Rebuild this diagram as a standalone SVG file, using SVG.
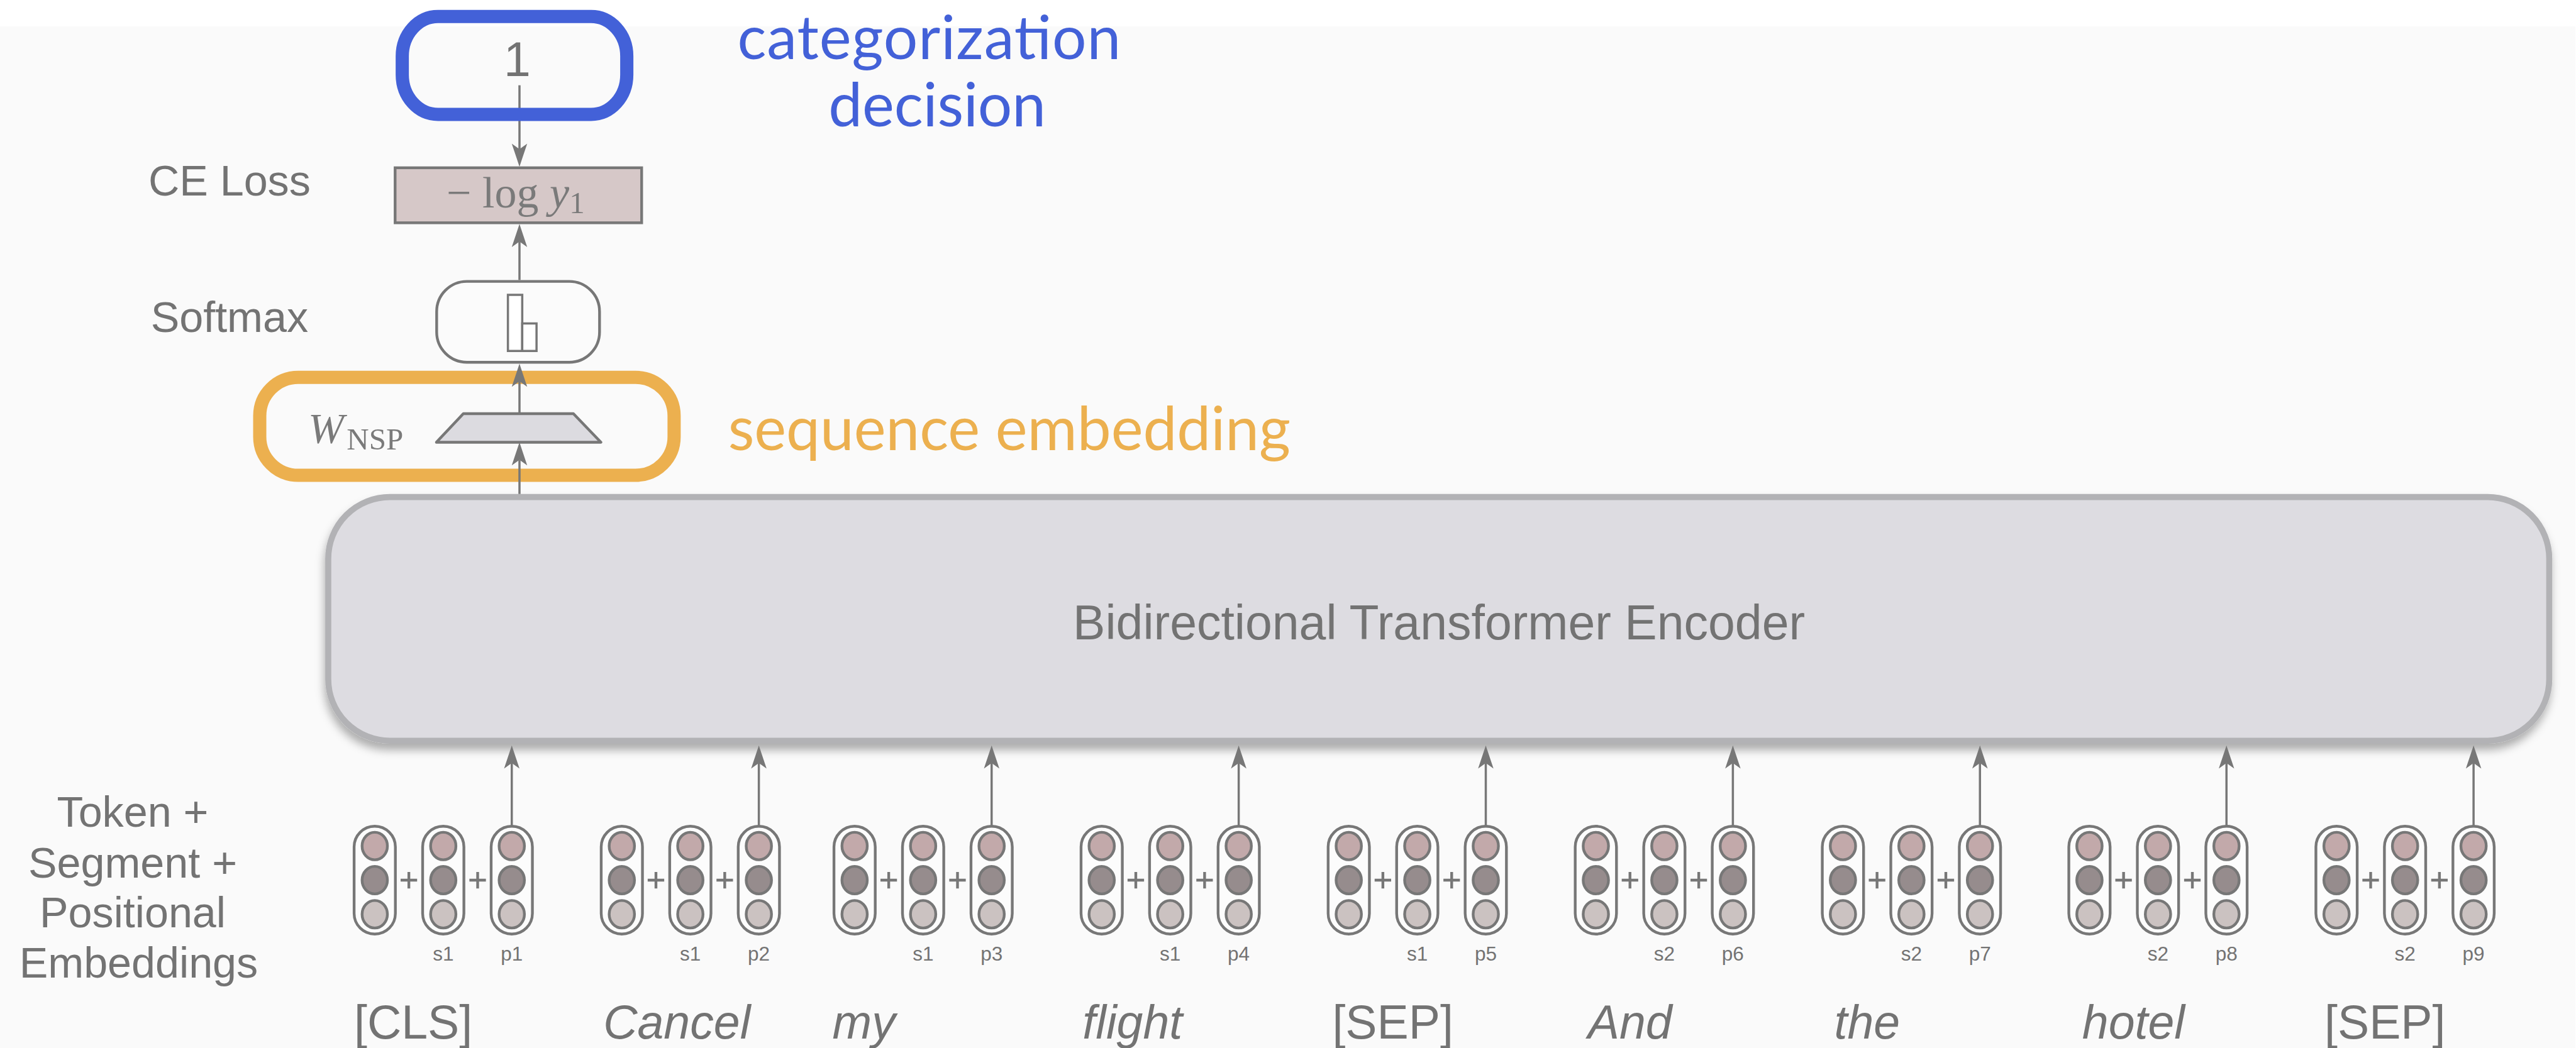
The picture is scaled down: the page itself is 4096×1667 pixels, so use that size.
<svg xmlns="http://www.w3.org/2000/svg" xmlns:xlink="http://www.w3.org/1999/xlink" width="4096" height="1667" viewBox="0 0 4096 1667">
  <style>
    .txt { font-family: "Liberation Sans", Arial, sans-serif; fill: #737373; }
    .math { font-family: "Liberation Serif", "Times New Roman", serif; fill: #7a7a7a; }
    .note { font-family: Lato, "Open Sans", sans-serif; font-size: 110px; }
    .conn { fill: none; stroke: #777777; stroke-width: 4; }
    .plus { fill: none; stroke: #777777; stroke-width: 5; }
    .sub { font-size: 36px; text-anchor: middle; }
    .word { font-size: 86px; text-anchor: middle; }
    .it { font-style: italic; }
  </style>
  <defs>
    <marker id="arrow" markerUnits="userSpaceOnUse" markerWidth="60" markerHeight="40" refX="10" refY="0" orient="auto" overflow="visible">
      <path d="M0,-14 L42,0 L0,14 L10,0 Z" fill="#777777"/>
    </marker>
    <filter id="shadow" x="-5%" y="-20%" width="110%" height="150%">
      <feDropShadow dx="-2" dy="12" stdDeviation="8" flood-color="#000000" flood-opacity="0.3"/>
    </filter>
    <!-- embedding vector: pill with three cells, centred on the origin -->
    <g id="vec">
      <rect x="-37.5" y="-98" width="75" height="196" rx="37.5" fill="#fcfcfc" stroke="#777777" stroke-width="5"/>
      <ellipse cx="0" cy="-62" rx="23" ry="25" fill="#c2a9aa" stroke="#777777" stroke-width="5"/>
      <ellipse cx="0" cy="0" rx="23" ry="25" fill="#968c8d" stroke="#777777" stroke-width="5"/>
      <ellipse cx="0" cy="62" rx="23" ry="25" fill="#cbc2c1" stroke="#777777" stroke-width="5"/>
    </g>
    <path id="plus" d="M-15,0 H15 M0,-15 V15"/>
  </defs>

  <g transform="scale(0.875)">
    <!-- background -->
    <rect x="0" y="0" width="4680" height="1905" fill="#fafafa"/>
    <rect x="0" y="0" width="4680" height="48" fill="#ffffff"/>

    <!-- side labels -->
    <g id="side-labels">
      <text class="txt" x="417" y="355" font-size="78" text-anchor="middle">CE Loss</text>
      <text class="txt" x="417" y="603" font-size="78" text-anchor="middle">Softmax</text>
      <text class="txt" font-size="78" text-anchor="middle">
        <tspan x="252" y="1503">Token +</tspan>
        <tspan x="252" y="1595">Segment +</tspan>
        <tspan x="252" y="1686">Positional</tspan>
        <tspan x="252" y="1777">Embeddings</tspan>
      </text>
    </g>

    <!-- sequence embedding highlight (behind connectors) -->
    <g id="seq-embedding">
      <rect x="472" y="686" width="753" height="178" rx="70" fill="none" stroke="#ecb04f" stroke-width="24"/>
      <text class="note" x="1323" y="818" fill="#ecb04f">sequence embedding</text>
    </g>

    <!-- loss box -->
    <g id="loss">
      <rect x="718" y="305" width="448" height="100" fill="#d6c8c8" stroke="#777777" stroke-width="5"/>
      <text class="math" x="937" y="377" font-size="80" text-anchor="middle">− log <tspan font-style="italic">y</tspan><tspan font-size="56" dy="10">1</tspan></text>
    </g>

    <!-- softmax -->
    <g id="softmax">
      <rect x="793.5" y="511.5" width="296" height="147" rx="55" fill="#fbfbfb" stroke="#777777" stroke-width="5"/>
      <rect x="923" y="536" width="26" height="102" fill="#ffffff" stroke="#777777" stroke-width="4"/>
      <rect x="949" y="588" width="26" height="50" fill="#ffffff" stroke="#777777" stroke-width="4"/>
    </g>

    <!-- NSP projection -->
    <g id="w-nsp">
      <polygon points="842,752 1042,752 1092,804 793,804" fill="#dcdbe0" stroke="#777777" stroke-width="5" stroke-linejoin="round"/>
      <text class="math" x="560" y="805" font-size="78" font-style="italic">W</text>
      <text class="math" x="630" y="817" font-size="56">NSP</text>
    </g>

    <!-- encoder -->
    <g id="encoder">
      <rect x="596.5" y="903.5" width="4036" height="443" rx="112" fill="#dddce1" stroke="#b2b2b5" stroke-width="11" filter="url(#shadow)"/>
      <text class="txt" x="2615" y="1162" font-size="88" text-anchor="middle">Bidirectional Transformer Encoder</text>
    </g>

    <!-- connectors -->
    <g id="connectors">
      <path class="conn" d="M944,155 V271" marker-end="url(#arrow)"/>
      <path class="conn" d="M944,509 V439" marker-end="url(#arrow)"/>
      <path class="conn" d="M944,752 V693" marker-end="url(#arrow)"/>
      <path class="conn" d="M944,898 V836" marker-end="url(#arrow)"/>
      <path class="conn" d="M930,1501 V1387" marker-end="url(#arrow)"/>
      <path class="conn" d="M1379,1501 V1387" marker-end="url(#arrow)"/>
      <path class="conn" d="M1802,1501 V1387" marker-end="url(#arrow)"/>
      <path class="conn" d="M2251,1501 V1387" marker-end="url(#arrow)"/>
      <path class="conn" d="M2700,1501 V1387" marker-end="url(#arrow)"/>
      <path class="conn" d="M3149,1501 V1387" marker-end="url(#arrow)"/>
      <path class="conn" d="M3598,1501 V1387" marker-end="url(#arrow)"/>
      <path class="conn" d="M4046,1501 V1387" marker-end="url(#arrow)"/>
      <path class="conn" d="M4495,1501 V1387" marker-end="url(#arrow)"/>
    </g>

    <!-- categorization decision -->
    <g id="decision">
      <rect x="731" y="30" width="408" height="178" rx="65" ry="72" fill="none" stroke="#4361d8" stroke-width="24"/>
      <text class="txt" x="940" y="138" font-size="88" text-anchor="middle">1</text>
      <text class="note" fill="#4361d8" text-anchor="middle" font-size="106">
        <tspan x="1703" y="107" textLength="697">categorization</tspan>
        <tspan x="1703" y="230" textLength="395">decision</tspan>
      </text>
    </g>

    <!-- token embeddings: token + segment + position -->
    <g id="tok-cls">
      <use href="#vec" x="681" y="1600"/><use href="#vec" x="805.5" y="1600"/><use href="#vec" x="930" y="1600"/>
      <use href="#plus" class="plus" x="743" y="1600"/><use href="#plus" class="plus" x="868" y="1600"/>
      <text class="txt sub" x="805.5" y="1746">s1</text><text class="txt sub" x="930" y="1746">p1</text>
      <text class="txt word" x="751" y="1888">[CLS]</text>
    </g>
    <g id="tok-cancel">
      <use href="#vec" x="1130" y="1600"/><use href="#vec" x="1254.5" y="1600"/><use href="#vec" x="1379" y="1600"/>
      <use href="#plus" class="plus" x="1192" y="1600"/><use href="#plus" class="plus" x="1317" y="1600"/>
      <text class="txt sub" x="1254.5" y="1746">s1</text><text class="txt sub" x="1379" y="1746">p2</text>
      <text class="txt word it" x="1230" y="1888">Cancel</text>
    </g>
    <g id="tok-my">
      <use href="#vec" x="1553" y="1600"/><use href="#vec" x="1677.5" y="1600"/><use href="#vec" x="1802" y="1600"/>
      <use href="#plus" class="plus" x="1615" y="1600"/><use href="#plus" class="plus" x="1740" y="1600"/>
      <text class="txt sub" x="1677.5" y="1746">s1</text><text class="txt sub" x="1802" y="1746">p3</text>
      <text class="txt word it" x="1570" y="1888">my</text>
    </g>
    <g id="tok-flight">
      <use href="#vec" x="2002" y="1600"/><use href="#vec" x="2126.5" y="1600"/><use href="#vec" x="2251" y="1600"/>
      <use href="#plus" class="plus" x="2064" y="1600"/><use href="#plus" class="plus" x="2189" y="1600"/>
      <text class="txt sub" x="2126.5" y="1746">s1</text><text class="txt sub" x="2251" y="1746">p4</text>
      <text class="txt word it" x="2058" y="1888">flight</text>
    </g>
    <g id="tok-sep1">
      <use href="#vec" x="2451" y="1600"/><use href="#vec" x="2575.5" y="1600"/><use href="#vec" x="2700" y="1600"/>
      <use href="#plus" class="plus" x="2513" y="1600"/><use href="#plus" class="plus" x="2638" y="1600"/>
      <text class="txt sub" x="2575.5" y="1746">s1</text><text class="txt sub" x="2700" y="1746">p5</text>
      <text class="txt word" x="2531" y="1888">[SEP]</text>
    </g>
    <g id="tok-and">
      <use href="#vec" x="2900" y="1600"/><use href="#vec" x="3024.5" y="1600"/><use href="#vec" x="3149" y="1600"/>
      <use href="#plus" class="plus" x="2962" y="1600"/><use href="#plus" class="plus" x="3087" y="1600"/>
      <text class="txt sub" x="3024.5" y="1746">s2</text><text class="txt sub" x="3149" y="1746">p6</text>
      <text class="txt word it" x="2962" y="1888">And</text>
    </g>
    <g id="tok-the">
      <use href="#vec" x="3349" y="1600"/><use href="#vec" x="3473.5" y="1600"/><use href="#vec" x="3598" y="1600"/>
      <use href="#plus" class="plus" x="3411" y="1600"/><use href="#plus" class="plus" x="3536" y="1600"/>
      <text class="txt sub" x="3473.5" y="1746">s2</text><text class="txt sub" x="3598" y="1746">p7</text>
      <text class="txt word it" x="3393" y="1888">the</text>
    </g>
    <g id="tok-hotel">
      <use href="#vec" x="3797" y="1600"/><use href="#vec" x="3921.5" y="1600"/><use href="#vec" x="4046" y="1600"/>
      <use href="#plus" class="plus" x="3859" y="1600"/><use href="#plus" class="plus" x="3984" y="1600"/>
      <text class="txt sub" x="3921.5" y="1746">s2</text><text class="txt sub" x="4046" y="1746">p8</text>
      <text class="txt word it" x="3877" y="1888">hotel</text>
    </g>
    <g id="tok-sep2">
      <use href="#vec" x="4246" y="1600"/><use href="#vec" x="4370.5" y="1600"/><use href="#vec" x="4495" y="1600"/>
      <use href="#plus" class="plus" x="4308" y="1600"/><use href="#plus" class="plus" x="4433" y="1600"/>
      <text class="txt sub" x="4370.5" y="1746">s2</text><text class="txt sub" x="4495" y="1746">p9</text>
      <text class="txt word" x="4334" y="1888">[SEP]</text>
    </g>
  </g>
</svg>
